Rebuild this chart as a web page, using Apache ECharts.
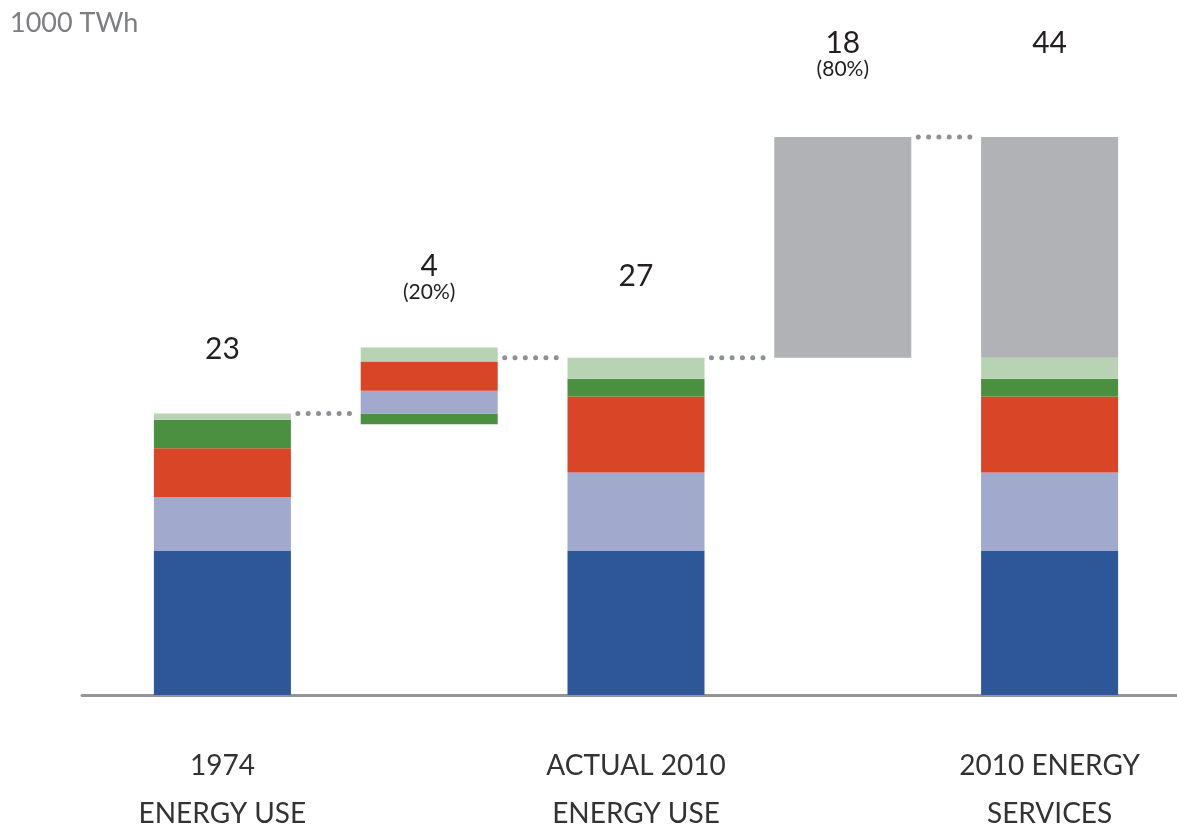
<!DOCTYPE html>
<html>
<head>
<meta charset="utf-8">
<script src="https://cdn.jsdelivr.net/npm/echarts@6/dist/echarts.min.js"></script>
<style>
  html, body { margin: 0; padding: 0; background: #fff; }
  #chart { width: 1177px; height: 827px; }
</style>
</head>
<body>
<div id="chart"></div>
<script>
// columns of the waterfall
var categories = ['1974\nENERGY USE', '', 'ACTUAL 2010\nENERGY USE', '', '2010 ENERGY\nSERVICES'];

// segment values, 1000 TWh
var blue     = [11.4, '-', 11.4, '-', 11.4];
var lavender = [4.2, 1.8, 6.15, '-', 6.15];
var red      = [3.85, 2.3, 6.0, '-', 6.0];
var dgreen   = [2.25, '-', 1.4, '-', 1.4];
var lgreen   = [0.5, 1.1, 1.65, '-', 1.65];
var dgreenDrop = ['-', 0.85, '-', '-', '-'];   // decrease 1974 -> 2010
var gray     = ['-', '-', '-', 17.4, 17.4];      // services gap

// printed labels above columns
var totalLabels = ['23', '4', '27', '18', '44'];
var shareLabels = ['', '(20%)', '', '(80%)', ''];

var colors = {
  blue: '#2e5799', lavender: '#a1aacd', red: '#d84527',
  dgreen: '#4b9040', lgreen: '#b7d3b4', gray: '#b1b2b6'
};

function num(v) { return v === '-' ? 0 : v; }
function colTotal(i) {
  return num(blue[i]) + num(lavender[i]) + num(red[i]) + num(dgreen[i]) + num(lgreen[i]);
}
var total1974 = colTotal(0);
var total2010 = colTotal(2);
var totalServ = colTotal(4) + gray[4];

// invisible base for the floating bars
var base = ['-', total1974 - dgreenDrop[1], '-', total2010, '-'];

var labelDist = [50, 43, 67, 56, 80];
function withLabels(arr, idx) {
  return arr.map(function (v, i) {
    if (idx.indexOf(i) < 0 || v === '-') return v;
    return {
      value: v,
      label: {
        show: true,
        position: 'top',
        distance: labelDist[i],
        formatter: shareLabels[i] ? '{a|' + totalLabels[i] + '}\n{b|' + shareLabels[i] + '}' : '{a|' + totalLabels[i] + '}',
        rich: {
          a: { fontSize: 30, lineHeight: 28, color: '#231f20', fontFamily: 'Lato' },
          b: { fontSize: 21, lineHeight: 24, color: '#231f20', fontFamily: 'Lato' }
        }
      }
    };
  });
}

// dotted connectors between columns
var connectors = [
  { x: 0, y: total1974 },
  { x: 1, y: total2010 },
  { x: 2, y: total2010 },
  { x: 3, y: totalServ }
];

function bar(name, data, color) {
  return {
    name: name, type: 'bar', stack: 'w', data: data, barWidth: 137,
    itemStyle: { color: color }, silent: true
  };
}

var series = [
  bar('base', base, 'rgba(0,0,0,0)'),
  bar('dgreenDrop', dgreenDrop, colors.dgreen),
  bar('blue', blue, colors.blue),
  bar('lavender', lavender, colors.lavender),
  bar('red', red, colors.red),
  bar('dgreen', dgreen, colors.dgreen),
  bar('lgreen', withLabels(lgreen, [0, 1, 2]), colors.lgreen),
  bar('gray', withLabels(gray, [3, 4]), colors.gray)
];

connectors.forEach(function (c) {
  series.push({
    type: 'line', xAxisIndex: 1, yAxisIndex: 0, silent: true,
    symbol: 'none',
    data: [[c.x + 0.365, c.y], [c.x + 0.62, c.y]],
    lineStyle: { color: '#8e9097', width: 5, type: [0.01, 10.3], cap: 'round' },
    z: 3
  });
});

var chart = echarts.init(document.getElementById('chart'));
chart.setOption({
  animation: false,
  title: {
    text: '1000 TWh', left: 5, top: 5,
    textStyle: { fontSize: 27, fontWeight: 'normal', color: '#7d7e82', fontFamily: 'Lato' }
  },
  grid: [
    { left: 119, right: 24, top: 61, bottom: 132, outerBoundsMode: 'none' },
    { left: 82, right: 0, top: 61, bottom: 132, outerBoundsMode: 'none' }
  ],
  xAxis: [
    {
      type: 'category', gridIndex: 0, data: categories,
      axisLine: { show: false }, axisTick: { show: false },
      axisLabel: {
        interval: 0, margin: 47, fontSize: 28, lineHeight: 48,
        color: '#333336', fontFamily: 'Lato'
      }
    },
    { type: 'value', gridIndex: 0, min: -0.5, max: 4.5, show: false },
    {
      type: 'value', gridIndex: 1, min: 0, max: 1,
      axisLine: { show: true, lineStyle: { color: '#939598', width: 3 } },
      axisTick: { show: false }, axisLabel: { show: false }, splitLine: { show: false }
    }
  ],
  yAxis: [
    { type: 'value', gridIndex: 0, min: 0, max: 50, show: false },
    { type: 'value', gridIndex: 1, min: 0, max: 50, show: false }
  ],
  series: series
});
</script>
</body>
</html>
